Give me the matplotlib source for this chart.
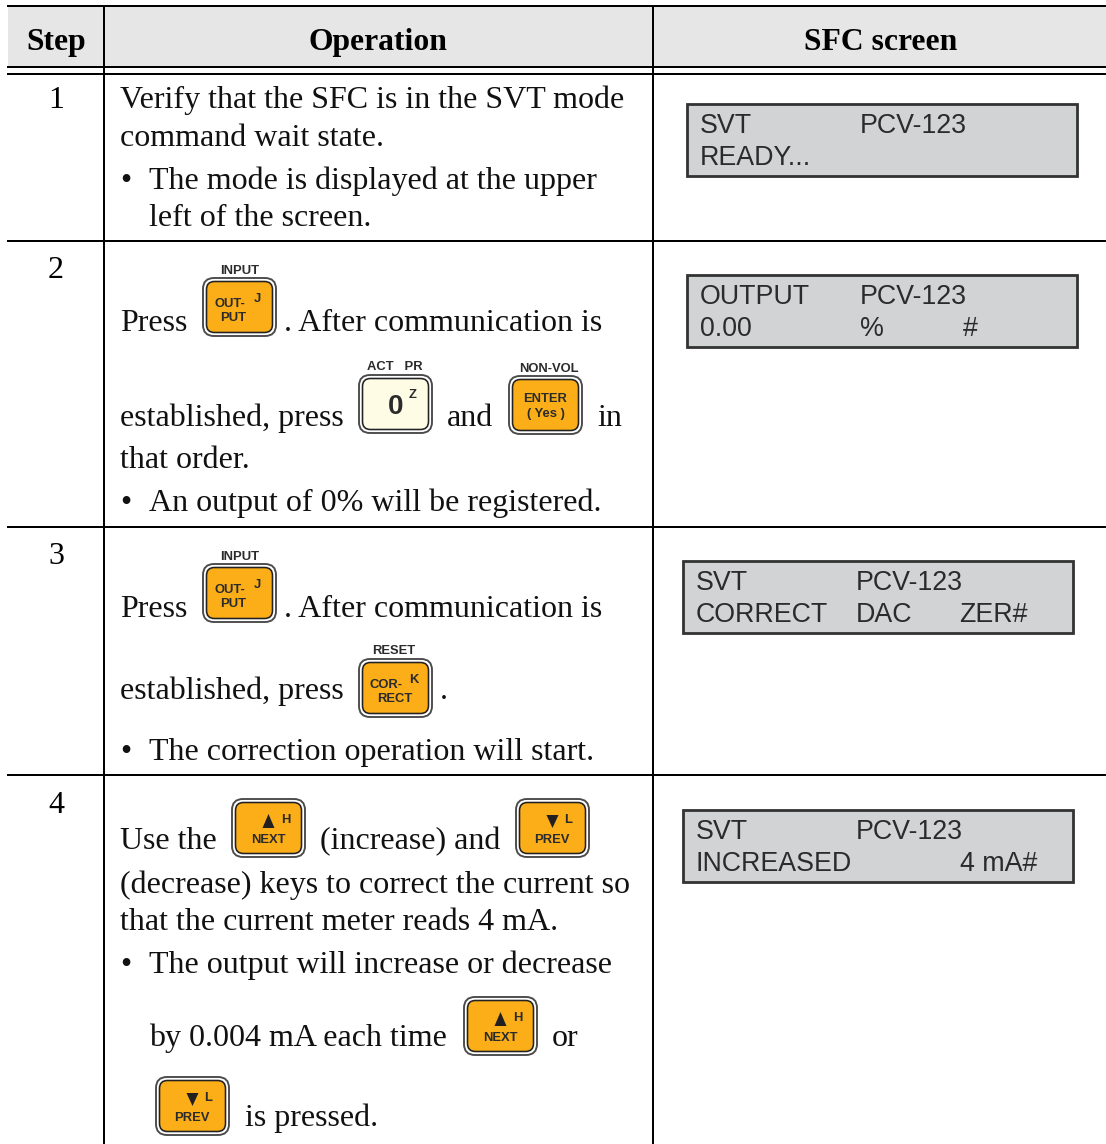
import matplotlib
matplotlib.use('Agg')
import matplotlib.pyplot as plt
from matplotlib.patches import FancyBboxPatch, Rectangle, Polygon

SERIF = 'Liberation Serif'
SANS = 'Liberation Sans'
PX = 0.72  # one pixel in points at dpi 100
KEY_FONT = 9.4

headers = ['Step', 'Operation', 'SFC screen']
steps = ['1', '2', '3', '4']

# (text, x, baseline y)
operation_lines = [
    ('Verify that the SFC is in the SVT mode', 120, 108),
    ('command wait state.', 120, 146),
    ('•', 120, 189),
    ('The mode is displayed at the upper', 149, 189),
    ('left of the screen.', 149, 226),
    ('Press', 120, 331),
    ('. After communication is', 284, 331),
    ('established, press', 120, 426),
    ('and', 447, 426),
    ('in', 597, 426),
    ('that order.', 120, 468),
    ('•', 120, 511),
    ('An output of 0% will be registered.', 149, 511),
    ('Press', 120, 617),
    ('. After communication is', 284, 617),
    ('established, press', 120, 699),
    ('.', 440, 699),
    ('•', 120, 760),
    ('The correction operation will start.', 149, 760),
    ('Use the', 120, 849),
    ('(increase) and', 320, 849),
    ('(decrease) keys to correct the current so', 120, 893),
    ('that the current meter reads 4 mA.', 120, 930),
    ('•', 120, 973),
    ('The output will increase or decrease', 149, 973),
    ('by 0.004 mA each time', 149, 1046),
    ('or', 552, 1046),
    ('is pressed.', 245, 1126),
]

# (kind, left, top, caption)
keys = [
    ('output', 203, 278, 'INPUT'),
    ('zero', 359, 375, 'ACT   PR'),
    ('enter', 509, 376, 'NON-VOL'),
    ('output', 203, 564, 'INPUT'),
    ('correct', 359, 659, 'RESET'),
    ('next', 232, 799, ''),
    ('prev', 516, 799, ''),
    ('next', 464, 997, ''),
    ('prev', 156, 1077, ''),
]
caption_dx = {'NON-VOL': 3, 'ACT   PR': -1, 'RESET': -2}

# (left, top, first row, second row) with the column x of each text
screens = [
    (687, 103, [('SVT', 13), ('PCV-123', 173)], [('READY...', 13)]),
    (687, 274, [('OUTPUT', 13), ('PCV-123', 173)], [('0.00', 13), ('%', 173), ('#', 276)]),
    (683, 560, [('SVT', 13), ('PCV-123', 173)], [('CORRECT', 13), ('DAC', 173), ('ZER#', 276)]),
    (683, 809, [('SVT', 13), ('PCV-123', 173)], [('INCREASED', 13), ('4 mA#', 277)]),
]

row_lines = [241, 527, 775]
step_y = [108, 278, 564, 813]


def rounded(ax, x0, y0, x1, y1, rad, fc, ec, lw):
    ax.add_patch(FancyBboxPatch((x0 + rad, y0 + rad), x1 - x0 - 2 * rad, y1 - y0 - 2 * rad,
                                boxstyle=f'round,pad={rad},rounding_size={rad}',
                                fc=fc, ec=ec, lw=lw * PX, zorder=3))


def label(ax, x, y, s, size=KEY_FONT, color='#2b2b2b', ha='center'):
    ax.text(x, y + 1, s, family=SANS, weight='bold', fontsize=size, color=color,
            ha=ha, va='center', zorder=5)


def draw_key(ax, kind, x, y, caption):
    w, h = 73, 58
    face = '#fffce6' if kind == 'zero' else '#fbae17'
    rounded(ax, x, y, x + w, y + h, 11, 'white', '#4a4a4a', 1.9)
    rounded(ax, x + 3.5, y + 3.5, x + w - 3.5, y + h - 3.5, 8, face, '#222222', 1.6)
    cx = x + w / 2
    if caption:
        label(ax, cx + caption_dx.get(caption, 0), y - 8.5, caption)
    if kind == 'output':
        label(ax, x + 26.5, y + 25, 'OUT-')
        label(ax, x + 30, y + 39, 'PUT')
        label(ax, x + 54, y + 20, 'J')
    elif kind == 'zero':
        label(ax, x + 37, y + 31, '0', 20)
        label(ax, x + 54, y + 19, 'Z')
    elif kind == 'enter':
        label(ax, cx, y + 22, 'ENTER')
        label(ax, cx, y + 37, '( Yes )')
    elif kind == 'correct':
        label(ax, x + 27, y + 25, 'COR-')
        label(ax, cx - 1, y + 39, 'RECT')
        label(ax, x + 55, y + 20, 'K')
    elif kind in ('next', 'prev'):
        if kind == 'next':
            tri = [(cx - 6, y + 29), (cx + 6, y + 29), (cx, y + 15)]
            label(ax, x + 54, y + 20, 'H')
        else:
            tri = [(cx - 6, y + 16), (cx + 6, y + 16), (cx, y + 29)]
            label(ax, x + 52, y + 20, 'L')
        ax.add_patch(Polygon(tri, fc='#231f20', ec='none', zorder=5))
        label(ax, cx - 0.5, y + 40, kind.upper())


def main():
    fig = plt.figure(figsize=(11.06, 11.44), dpi=100, facecolor='white')
    ax = fig.add_axes([0, 0, 1, 1])
    ax.set_xlim(0, 1106)
    ax.set_ylim(1144, 0)
    ax.axis('off')

    # Header band and rules
    ax.add_patch(Rectangle((8, 6), 1098, 60, fc='#e6e6e6', ec='none', zorder=1))
    ax.plot([8, 1106], [6, 6], color='black', lw=2 * PX, zorder=2)
    ax.plot([8, 1106], [67, 67], color='black', lw=2 * PX, zorder=2)
    ax.plot([8, 1106], [74, 74], color='black', lw=2 * PX, zorder=2)
    for y in row_lines:
        ax.plot([8, 1106], [y, y], color='black', lw=2 * PX, zorder=2)
    for x in (104, 653):
        ax.plot([x, x], [6, 1144], color='black', lw=2 * PX, zorder=2)

    for s, x in zip(headers, (56, 378, 881)):
        ax.text(x, 50, s, family=SERIF, weight='bold', fontsize=22.8, ha='center', va='baseline')
    for s, y in zip(steps, step_y):
        ax.text(56, y, s, family=SERIF, fontsize=23, ha='center', va='baseline')

    for s, x, y in operation_lines:
        ax.text(x, y, s, family=SERIF, fontsize=23, color='#111111', va='baseline')

    for kind, x, y, caption in keys:
        draw_key(ax, kind, x, y, caption)

    for x, y, first, second in screens:
        ax.add_patch(Rectangle((x, y + 1), 390, 72, fc='#d1d3d4', ec='#333333', lw=2.8 * PX, zorder=3))
        for s, dx in first:
            ax.text(x + dx, y + 30, s, family=SANS, fontsize=19.3, color='#2b2b2b', va='baseline', zorder=4)
        for s, dx in second:
            ax.text(x + dx, y + 62, s, family=SANS, fontsize=19.3, color='#2b2b2b', va='baseline', zorder=4)

    fig.savefig('out.png', dpi=100)


if __name__ == "__main__":
    main()
